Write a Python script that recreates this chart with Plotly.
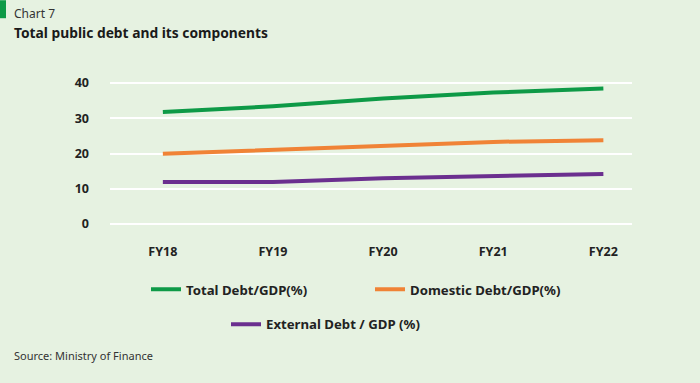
import plotly.graph_objects as go

years = ["FY18", "FY19", "FY20", "FY21", "FY22"]
total_debt = [31.8, 33.4, 35.6, 37.3, 38.5]
domestic_debt = [19.9, 21.0, 22.1, 23.3, 23.8]
external_debt = [11.9, 11.9, 13.0, 13.6, 14.2]
y_ticks = [0, 10, 20, 30, 40]

W, H = 700, 383
# pixel positions of value 40 and 0 gridlines
Y40, Y0 = 83, 224
ppu = (Y0 - Y40) / 40.0
PAD = 0.6
L, R = 110, 632
T = Y40 - PAD * ppu
B = Y0 + PAD * ppu
pw, ph = R - L, B - T

def px(x):
    return (x - L) / pw

def py(y):
    return (B - y) / ph

BG = "#e6f2e1"
FONT = "Noto Sans"
fig = go.Figure()
series = [
    ("Total Debt/GDP(%)", total_debt, "#0e9a47", "legend"),
    ("Domestic Debt/GDP(%)", domestic_debt, "#f08336", "legend2"),
    ("External Debt / GDP (%)", external_debt, "#6b2f8f", "legend3"),
]
for name, vals, col, lg in series:
    fig.add_trace(go.Scatter(x=years, y=vals, mode="lines", name=name,
                             line=dict(color=col, width=4), legend=lg))

legfont = dict(family=FONT, size=13.2, color="#222222", weight="bold")
def leg(x, y):
    return dict(x=px(x), y=py(y), xanchor="left", yanchor="middle",
                bgcolor="rgba(0,0,0,0)", font=legfont, orientation="h")

fig.update_layout(
    width=W, height=H,
    margin=dict(l=L, r=W - R, t=T, b=H - B),
    paper_bgcolor=BG, plot_bgcolor=BG,
    legend=leg(146, 290),
    legend2=leg(370, 290),
    legend3=leg(226, 325),
    xaxis=dict(type="category", range=[-0.48, 4.26], showgrid=False,
               zeroline=False, showline=False, ticks="",
               ticklabelstandoff=16,
               tickfont=dict(family=FONT, size=12.5, color="#222222", weight="bold")),
    yaxis=dict(range=[-PAD, 40 + PAD], tickvals=y_ticks, showgrid=True,
               gridcolor="#ffffff", gridwidth=1.5, zeroline=False,
               showline=False, ticks="", ticklabelstandoff=20,
               tickfont=dict(family=FONT, size=12.5, color="#222222", weight="bold")),
    showlegend=True,
)
fig.add_shape(type="rect", xref="paper", yref="paper",
              x0=px(0), x1=px(6), y0=py(18), y1=py(0),
              fillcolor="#0e9a47", line=dict(width=0), layer="above")
fig.add_annotation(text="Chart 7", xref="paper", yref="paper",
                   x=px(12), y=py(13), xanchor="left", yanchor="middle",
                   showarrow=False,
                   font=dict(family=FONT, size=12, color="#333333"))
fig.add_annotation(text="<b>Total public debt and its components</b>", xref="paper", yref="paper",
                   x=px(12), y=py(32), xanchor="left", yanchor="middle",
                   showarrow=False,
                   font=dict(family=FONT, size=13.8, color="#1a1a1a"))
fig.add_annotation(text="Source: Ministry of Finance", xref="paper", yref="paper",
                   x=px(12), y=py(356), xanchor="left", yanchor="middle",
                   showarrow=False,
                   font=dict(family=FONT, size=11, color="#333333"))

fig.write_html("out.html", config={"displayModeBar": False},
               post_script="document.body.style.margin='0';document.body.style.overflow='hidden';")
